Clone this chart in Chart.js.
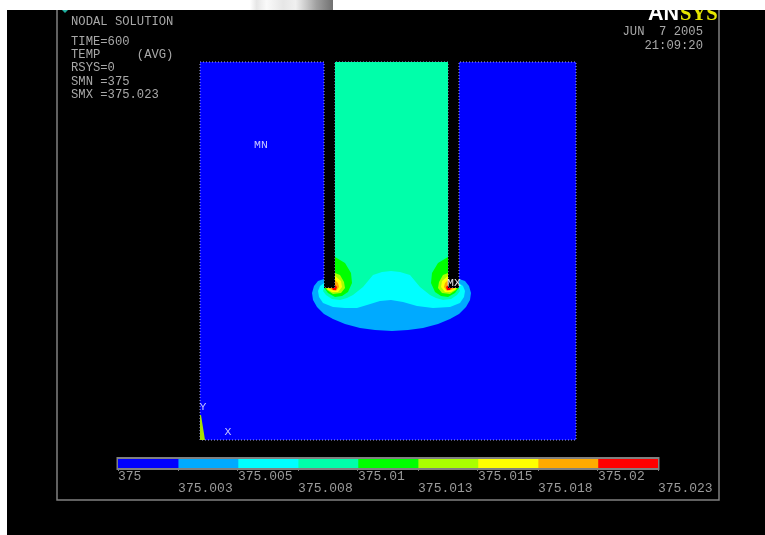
<!DOCTYPE html>
<html>
<head>
<meta charset="UTF-8" />
<script src="https://cdn.jsdelivr.net/npm/chart.js@4/dist/chart.umd.js"></script>
<style>
	html, body { margin: 0; padding: 0; background: #fff; overflow: hidden; }
	canvas { position: absolute; left: 0; top: 0; filter: blur(0.6px); }
</style>
</head>
<body>
<canvas id="plot" width="765" height="535"></canvas>
<canvas id="bar" width="765" height="535"></canvas>
<script>
// contour band colours, lowest to highest temperature
const bandColors = ["#0000ff", "#00aaff", "#00ffff", "#00ffaa", "#00ff00", "#aaff00", "#ffff00", "#ffaa00", "#ff0000"];
const levels = [375, 375.00256, 375.00511, 375.00767, 375.01022, 375.01278, 375.01533, 375.01789, 375.02044, 375.023];
const tickLabels = ["375", "375.003", "375.005", "375.008", "375.01", "375.013", "375.015", "375.018", "375.02", "375.023"];

// contour outlines in model units, origin at the lower left corner of the plate
const plate = [[0,378],[124,378],[124,152],[135,152],[135,378],[248,378],[248,152],[259,152],[259,378],[376,378],[376,0],[0,0],[0,378]];
const band2 = [[124,161],[118,159],[114,154],[112,147],[113,140],[117,133],[124,126],[133,121],[145,116],[160,112],[175,110],[192,109],[208,110],[223,112],[238,116],[250,121],[259,126],[266,133],[270,140],[271,147],[269,154],[265,159],[259,161],[259,152],[248,152],[248,190],[135,190],[135,152],[124,152]];
const band3 = [[124,157],[120,154],[118,149],[119,143],[123,137],[133,133],[145,132],[157,132],[167,135],[180,139],[191,140],[203,138],[217,134],[233,132],[250,133],[260,137],[264,143],[265,149],[263,154],[259,157],[259,152],[248,152],[248,210],[135,210],[135,152],[124,152]];
const band4 = [[135,378],[135,152],[124,152],[123,149],[126,145],[132,141],[140,140],[147,142],[153,145],[163,153],[173,165],[182,168],[191,169],[200,168],[210,165],[220,153],[230,145],[236,142],[243,140],[251,141],[257,145],[260,149],[259,152],[248,152],[248,378]];
const band5L = [[135,183],[145,177],[151,167],[152,157],[148,148],[142,144],[135,143],[128,147],[125,151],[124,152],[135,152]];
const band5R = [[248,183],[238,177],[232,167],[231,157],[235,148],[241,144],[248,143],[255,147],[258,151],[259,152],[248,152]];
const band6L = [[135,167],[140,165],[144,158],[145,152],[141,147],[133,146],[127,150],[126,152],[135,152]];
const band6R = [[248,167],[243,165],[239,158],[238,152],[242,147],[250,146],[256,150],[257,152],[248,152]];
const band7L = [[135,164],[141,159],[142,153],[138,148],[132,148],[127,151],[128,152],[135,152]];
const band7R = [[248,164],[242,159],[241,153],[245,148],[251,148],[256,151],[255,152],[248,152]];
const band8L = [[135,160],[138,157],[139,153],[136,149],[132,150],[128,152],[135,152]];
const band8R = [[248,160],[245,157],[244,153],[247,149],[251,150],[255,152],[248,152]];
const band9L = [[135,155],[137,153],[136,150],[133,150],[132,152],[135,152]];
const band9R = [[248,155],[246,153],[247,150],[250,150],[251,152],[248,152]];
const triad = [[0,25],[0,0],[5,0],[1,25]];

const headerLines = ["NODAL SOLUTION", "TIME=600", "TEMP     (AVG)", "RSYS=0", "SMN =375", "SMX =375.023"];
const dateLines = ["JUN  7 2005", "21:09:20"];

// painted back to front
const shapes = [
	{ pts: plate, color: bandColors[0], edge: "#a8a8f0" },
	{ pts: band2, color: bandColors[1] },
	{ pts: band3, color: bandColors[2] },
	{ pts: band4, color: bandColors[3] },
	{ pts: band5L, color: bandColors[4] },
	{ pts: band5R, color: bandColors[4] },
	{ pts: band6L, color: bandColors[5] },
	{ pts: band6R, color: bandColors[5] },
	{ pts: band7L, color: bandColors[6] },
	{ pts: band7R, color: bandColors[6] },
	{ pts: band8L, color: bandColors[7] },
	{ pts: band8R, color: bandColors[7] },
	{ pts: band9L, color: bandColors[8] },
	{ pts: band9R, color: bandColors[8] },
	{ pts: triad, color: "#a6e000" }
];

const GREY = "#808080";
const MONO = '"Liberation Mono", "DejaVu Sans Mono", monospace';

const backdrop = {
	id: "backdrop",
	beforeDraw(chart) {
		const ctx = chart.ctx;
		ctx.save();
		ctx.fillStyle = "#fff";
		ctx.fillRect(0, 0, 765, 535);
		// bit of the page photo sticking out above the plot window
		const g = ctx.createLinearGradient(250, 0, 333, 0);
		g.addColorStop(0, "#ffffff");
		g.addColorStop(0.08, "#e6e6e6");
		g.addColorStop(0.2, "#fafafa");
		g.addColorStop(0.4, "#e6e6e6");
		g.addColorStop(0.55, "#f0f0f0");
		g.addColorStop(0.68, "#c8c8c8");
		g.addColorStop(0.8, "#a0a0a0");
		g.addColorStop(1, "#707070");
		ctx.fillStyle = g;
		ctx.fillRect(250, 0, 83, 10);
		ctx.fillStyle = "#000";
		ctx.fillRect(7, 10, 758, 525);
		ctx.strokeStyle = GREY;
		ctx.lineWidth = 1.5;
		ctx.beginPath();
		ctx.moveTo(57, 10);
		ctx.lineTo(57, 500);
		ctx.lineTo(719, 500);
		ctx.lineTo(719, 10);
		ctx.stroke();
		ctx.fillStyle = "#20b0a0";
		ctx.beginPath();
		ctx.moveTo(62, 10);
		ctx.lineTo(68, 10);
		ctx.lineTo(65, 13);
		ctx.fill();
		ctx.restore();
	}
};

const notes = {
	id: "notes",
	afterDraw(chart) {
		const ctx = chart.ctx;
		const { x, y } = chart.scales;
		ctx.save();
		ctx.textBaseline = "middle";
		ctx.textAlign = "left";
		ctx.font = "12.2px " + MONO;
		ctx.fillStyle = "#a8a8a8";
		const rowY = [22, 42, 55, 68, 82, 95];
		headerLines.forEach((t, i) => ctx.fillText(t, 71, rowY[i]));
		ctx.textAlign = "right";
		ctx.fillText(dateLines[0], 703, 32);
		ctx.fillText(dateLines[1], 703, 46);

		// model labels sit on the plate
		ctx.textAlign = "center";
		ctx.font = "11.5px " + MONO;
		ctx.fillStyle = "#c4c4ff";
		ctx.fillText("MN", x.getPixelForValue(61), y.getPixelForValue(295));
		ctx.fillText("Y", x.getPixelForValue(3), y.getPixelForValue(33));
		ctx.fillText("X", x.getPixelForValue(28), y.getPixelForValue(8));
		ctx.fillStyle = "#e8e8e8";
		ctx.fillText("MX", x.getPixelForValue(254), y.getPixelForValue(157));

		// logo is cut off by the top edge of the window
		ctx.beginPath();
		ctx.rect(0, 10, 765, 525);
		ctx.clip();
		ctx.textAlign = "left";
		ctx.textBaseline = "alphabetic";
		ctx.font = 'bold 21.5px "Liberation Sans", sans-serif';
		ctx.fillStyle = "#ffffff";
		ctx.fillText("AN", 648, 20);
		ctx.font = 'bold 20.5px "Liberation Serif", serif';
		ctx.fillStyle = "#e6e600";
		ctx.fillText("SYS", 680, 20);
		ctx.restore();
	}
};

new Chart(document.getElementById("plot").getContext("2d"), {
	type: "scatter",
	data: {
		datasets: shapes.map((s, i) => ({
			data: s.pts.map(p => ({ x: p[0], y: p[1] })),
			showLine: true,
			fill: "shape",
			backgroundColor: s.color,
			borderColor: s.edge || s.color,
			borderWidth: s.edge ? 1 : 0,
			borderDash: s.edge ? [1, 2] : [],
			pointRadius: 0,
			order: shapes.length - i
		}))
	},
	options: {
		responsive: false,
		animation: false,
		layout: { padding: 0 },
		scales: {
			x: { type: "linear", display: false, min: -200, max: 565 },
			y: { type: "linear", display: false, min: -95, max: 440 }
		},
		plugins: { legend: { display: false }, tooltip: { enabled: false } }
	},
	plugins: [backdrop, notes]
});

const barFrame = {
	id: "barFrame",
	beforeDatasetsDraw(chart) {
		const a = chart.chartArea;
		const ctx = chart.ctx;
		ctx.save();
		ctx.strokeStyle = GREY;
		ctx.lineWidth = 2;
		ctx.strokeRect(a.left - 0.5, a.top - 1, a.right - a.left + 1, a.bottom - a.top + 2);
		ctx.restore();
	}
};

new Chart(document.getElementById("bar").getContext("2d"), {
	type: "bar",
	data: {
		labels: ["TEMP"],
		datasets: bandColors.map((c, i) => ({
			data: [[levels[i], levels[i + 1]]],
			backgroundColor: c,
			borderWidth: 0,
			barPercentage: 1,
			categoryPercentage: 1,
			grouped: false
		}))
	},
	options: {
		responsive: false,
		animation: false,
		indexAxis: "y",
		layout: { padding: { left: 118, right: 107, top: 459, bottom: 37 } },
		scales: {
			y: { display: false },
			x: {
				type: "linear",
				min: levels[0],
				max: levels[levels.length - 1],
				afterBuildTicks: axis => { axis.ticks = levels.map(v => ({ value: v })); },
				afterFit: axis => { axis.height = 30; },
				border: { display: false },
				grid: { drawOnChartArea: false, color: GREY, tickLength: 3, tickWidth: 1 },
				ticks: {
					autoSkip: false,
					maxRotation: 0,
					minRotation: 0,
					align: "start",
					padding: 0,
					color: "#9a9a9a",
					font: { family: MONO, size: 13, lineHeight: 0.92 },
					callback: (v, i) => i % 2 ? ["", tickLabels[i]] : tickLabels[i]
				}
			}
		},
		plugins: { legend: { display: false }, tooltip: { enabled: false } }
	},
	plugins: [barFrame]
});
</script>
</body>
</html>
